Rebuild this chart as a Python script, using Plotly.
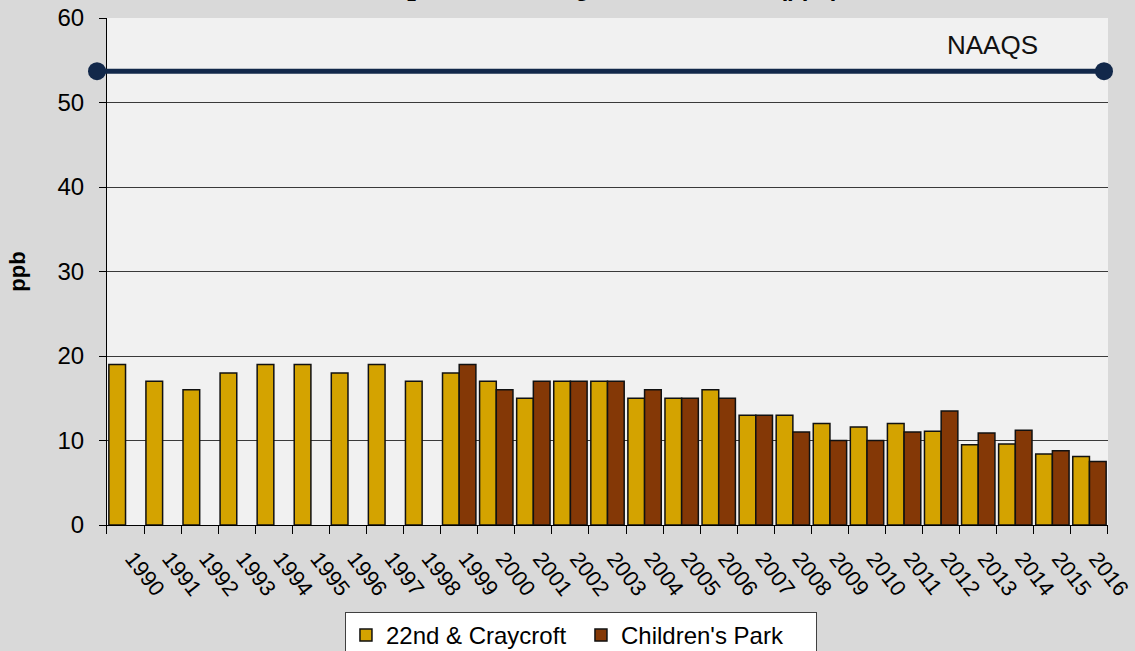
import plotly.graph_objects as go

years = [str(y) for y in range(1990, 2017)]
craycroft = [19, 17, 16, 18, 19, 19, 18, 19, 17, 18, 17, 15, 17, 17, 15, 15, 16, 13, 13, 12, 11.6, 12, 11.1, 9.5, 9.6, 8.4, 8.1]
childrens = [None, None, None, None, None, None, None, None, None, 19, 16, 17, 17, 17, 16, 15, 15, 13, 11, 10, 10, 11, 13.5, 10.9, 11.2, 8.8, 7.5]
naaqs_x = [0, 1]
naaqs_y = [53.7, 53.7]

FONT = "Liberation Sans, Arial, sans-serif"

fig = go.Figure()
fig.add_trace(go.Bar(
    x=years, y=craycroft, name="22nd &amp; Craycroft",
    marker=dict(color="#D4A300", line=dict(color="#111111", width=1.5)),
))
fig.add_trace(go.Bar(
    x=years, y=childrens, name="Children's Park",
    marker=dict(color="#843806", line=dict(color="#111111", width=1.5)),
))
fig.add_trace(go.Scatter(
    x=naaqs_x, y=naaqs_y, xaxis="x2", yaxis="y2", mode="lines+markers",
    line=dict(color="#12284A", width=5), marker=dict(size=18, color="#12284A"),
    showlegend=False, cliponaxis=False, hoverinfo="skip",
))

fig.update_layout(
    width=1135, height=651,
    margin=dict(l=97, r=27, t=18, b=126, autoexpand=False),
    paper_bgcolor="#D9D9D9", plot_bgcolor="rgba(0,0,0,0)",
    font=dict(family=FONT, size=24, color="#000000"),
    barmode="group", bargap=0.1, bargroupgap=0,
    showlegend=True,
    legend=dict(
        orientation="h", x=0.4787, xanchor="center", y=-0.1716, yanchor="top",
        bgcolor="#FFFFFF", bordercolor="#404040", borderwidth=1,
        font=dict(family=FONT, size=24, color="#000000"),
        entrywidth=190, entrywidthmode="pixels", traceorder="normal",
    ),
    xaxis=dict(
        type="category", tickson="boundaries", ticks="outside", ticklen=8,
        domain=[0.00989, 1], automargin=False, anchor="y",
        tickcolor="#000000", showline=True, linecolor="#000000", linewidth=1,
        tickangle=52, showgrid=False, tickfont=dict(size=22, color="#000000"),
        ticklabelstandoff=11, ticklabelshift=7,
    ),
    yaxis=dict(
        range=[0, 60], tickvals=[0, 10, 20, 30, 40, 50, 60], ticks="outside",
        ticklen=7, tickcolor="#000000", showline=True, linecolor="#000000",
        linewidth=1, showgrid=True, gridcolor="#3A3A3A", gridwidth=1,
        zeroline=False, tickfont=dict(size=24, color="#000000"),
        ticklabelstandoff=10, automargin=False, anchor="x",
        title=dict(text="<b>ppb</b>", font=dict(size=22, color="#000000"), standoff=25),
    ),
    xaxis2=dict(domain=[0, 1], range=[0, 1.00397], visible=False, anchor="y2",
                automargin=False),
    yaxis2=dict(domain=[0, 1], range=[0, 60], visible=False, anchor="x2",
                automargin=False),
    shapes=[
        dict(type="rect", xref="x domain", yref="y domain", x0=0, x1=1, y0=0, y1=1,
             fillcolor="#F1F1F1", line=dict(width=0), layer="below"),
    ],
    annotations=[
        dict(text="<b>NO<sub>2</sub> Annual Average Concentration (ppb)</b>",
             xref="paper", yref="paper", x=0.5, y=1, xanchor="center", yanchor="bottom",
             yshift=11, xshift=2, showarrow=False, font=dict(size=24, color="#000000")),
        dict(text="NAAQS", xref="paper", yref="y", x=0.886, y=53.7,
             xanchor="center", yanchor="bottom", yshift=9, showarrow=False,
             font=dict(size=26, color="#111111")),
    ],
)

fig.write_html(
    "out.html",
    config={"displayModeBar": False},
    post_script="document.body.style.margin='0px';document.body.style.background='#D9D9D9';",
)
